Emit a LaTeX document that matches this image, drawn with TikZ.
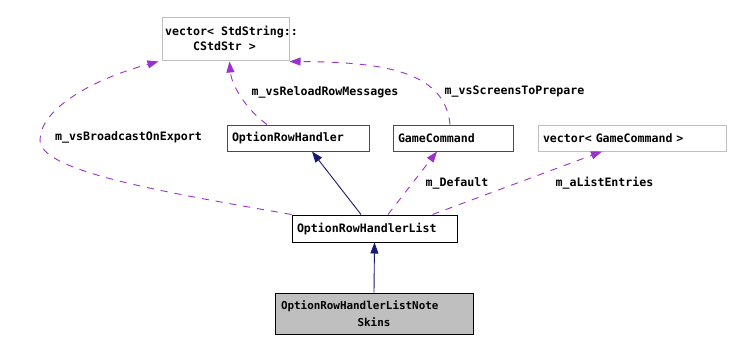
\documentclass[tikz,border=0pt]{standalone}
\usepackage{fontspec}
\setmonofont{DejaVu Sans Mono}
\usetikzlibrary{arrows.meta}
\definecolor{edgeviolet}{HTML}{9A32CD}
\definecolor{edgenavy}{HTML}{191970}
\definecolor{boxgray}{HTML}{BFBFBF}
\definecolor{boxred}{HTML}{FF0000}
\tikzset{
  classfont/.style={font=\fontsize{11.6}{14}\selectfont\ttfamily\bfseries},
  cls/.style={draw, line width=1pt, rectangle, inner xsep=5pt, inner ysep=0pt,
              classfont, align=left},
  redcls/.style={cls, draw=boxred},
  graycls/.style={cls, draw=boxgray},
  inherit/.style={draw=edgenavy, line width=0.9pt,
                  -{Triangle[length=11pt,width=8pt,fill=edgenavy]}},
  member/.style={draw=edgeviolet, line width=0.9pt, dash pattern=on 7pt off 7pt,
                 -{Triangle[length=11pt,width=8pt,fill=edgeviolet]}},
  memlabel/.style={classfont, inner sep=0pt}
}
\begin{document}
\begin{tikzpicture}[x=1pt,y=-1pt]
  \useasboundingbox[fill=white] (0,0) rectangle (741,353);

  % classes
  \node[graycls, minimum width=127pt, minimum height=43pt] (vec) at (225.5,39.5) {};
  \node[classfont, inner sep=0pt] (vectxta) at (231.5,32) {vector< StdString::};
  \node[classfont, inner sep=0pt] (vectxtb) at (224.5,46.5) {CStdStr >};
  \node[redcls, text width=132pt, minimum height=26pt] (orh) at (298,138) {OptionRowHandler};
  \node[redcls, text width=110pt, minimum height=26pt] (gc) at (453,138) {GameCommand};
  \node[graycls, text width=178pt, minimum height=26pt] (vgc) at (632,138) {vector< GameCommand >};
  \node[cls, text width=155pt, minimum height=27pt] (orhl) at (374.5,228.5) {OptionRowHandlerList};
  \node[cls, fill=boxgray, align=center, inner xsep=6pt, text width=186pt, minimum height=41pt,
        font=\fontsize{10.9}{16.5}\selectfont\ttfamily\bfseries] (ns) at (374,313.5)
        {\makebox[\linewidth][l]{OptionRowHandlerListNote}\\Skins};

  % inheritance
  \draw[inherit] (ns.north) -- (orhl.south);
  \draw[inherit] ([xshift=-13.5pt]orhl.north) -- ([xshift=14pt]orh.south);

  % members
  \coordinate (bcw) at (40,140);
  \draw[member] (orhl.north west) .. controls (150,190) and (40,170) .. (bcw)
                .. controls (40,110) and (90,80) .. ([xshift=-3pt]vec.south west);
  \draw[member] ([xshift=-31pt]orh.north) .. controls +(-22,-16) and +(2,23) .. ([xshift=4pt]vec.south);
  \draw[member] ([xshift=-3pt]gc.north) .. controls (445,70) and (380,62) .. (vec.south east);
  \draw[member] ([xshift=13.5pt]orhl.north) -- ([xshift=-16pt]gc.south);
  \draw[member] ([xshift=58pt]orhl.north) -- ([xshift=-30pt]vgc.south);

  % member labels
  \node[memlabel] (lbcast) at (128.5,137) {m\_vsBroadcastOnExport};
  \node[memlabel] (lreload) at (325,92) {m\_vsReloadRowMessages};
  \node[memlabel] (lscreens) at (514.5,92) {m\_vsScreensToPrepare};
  \node[memlabel] (ldefault) at (457,183) {m\_Default};
  \node[memlabel] (lentries) at (604.5,183) {m\_aListEntries};
\end{tikzpicture}
\end{document}
